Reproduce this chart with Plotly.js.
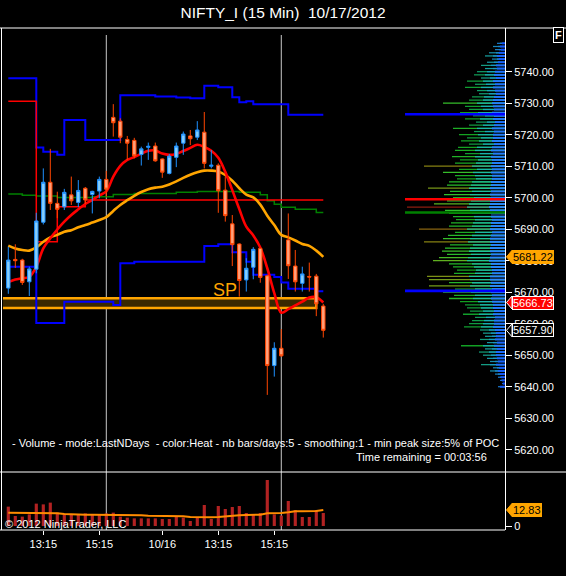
<!DOCTYPE html>
<html><head><meta charset="utf-8">
<script src="https://cdn.plot.ly/plotly-3.0.1.min.js"></script>
<style>html,body{margin:0;padding:0;background:#000;}#chart{width:566px;height:576px;}</style>
</head><body><div id="chart"></div>
<script>
// ---- bar times (15 min bars, close time) ----
const times = [
"10/15 12:00","10/15 12:15","10/15 12:30","10/15 12:45","10/15 13:00","10/15 13:15","10/15 13:30","10/15 13:45","10/15 14:00","10/15 14:15","10/15 14:30","10/15 14:45","10/15 15:00","10/15 15:15","10/15 15:30",
"10/16 09:30","10/16 09:45","10/16 10:00","10/16 10:15","10/16 10:30","10/16 10:45","10/16 11:00","10/16 11:15","10/16 11:30","10/16 11:45","10/16 12:00","10/16 12:15","10/16 12:30","10/16 12:45","10/16 13:00","10/16 13:15","10/16 13:30","10/16 13:45","10/16 14:00","10/16 14:15","10/16 14:30","10/16 14:45","10/16 15:00","10/16 15:15","10/16 15:30",
"10/17 09:30","10/17 09:45","10/17 10:00","10/17 10:15","10/17 10:30","10/17 10:45"];
const tickCats = ["10/15 13:15","10/15 15:15","10/16 11:15","10/16 13:15","10/16 15:15"];
const tickText = ["13:15","15:15","10/16","13:15","15:15"];
const sessionEnds = ["10/15 15:30","10/16 15:30"];

const open  = [5671.3,5680.4,5680.2,5673.3,5677.3,5692.2,5704.9,5698.2,5697.1,5700.9,5698.5,5703.0,5701.0,5702.1,5705.8,
 5725.5,5724.3,5718.5,5718.2,5713.7,5716.0,5716.4,5712.3,5707.7,5712.8,5717.3,5719.6,5719.2,5720.8,5710.0,5710.3,5702.4,5691.7,5685.3,5673.9,5677.9,5683.9,5675.2,5646.7,5652.2,
 5686.6,5678.3,5672.8,5675.0,5675.1,5665.6];
const high  = [5684.4,5685.2,5680.6,5678.1,5695.2,5709.3,5715.5,5701.9,5702.8,5706.7,5705.6,5703.4,5702.2,5706.7,5708.5,
 5729.7,5725.2,5719.6,5719.0,5716.2,5717.5,5717.5,5712.5,5713.9,5717.5,5721.0,5721.5,5724.3,5727.2,5715.1,5710.9,5706.7,5694.5,5685.5,5680.8,5684.3,5684.0,5675.5,5654.1,5658.3,
 5695.0,5683.4,5678.1,5679.4,5675.8,5666.3];
const low   = [5669.5,5677.7,5672.3,5668.8,5676.0,5691.5,5696.1,5693.5,5696.1,5697.7,5697.0,5698.0,5695.0,5699.8,5700.3,
 5719.4,5717.3,5712.0,5712.5,5710.2,5712.0,5711.4,5706.3,5707.4,5709.7,5713.6,5716.7,5718.3,5709.3,5709.3,5695.2,5692.4,5678.3,5668.6,5670.2,5674.1,5673.0,5637.4,5643.2,5649.5,
 5674.2,5670.2,5670.2,5670.2,5662.4,5655.6];
const close = [5680.2,5680.0,5673.1,5677.4,5692.6,5704.9,5698.2,5696.3,5701.7,5699.0,5702.3,5699.3,5702.0,5705.8,5702.7,
 5723.8,5719.2,5717.3,5713.3,5715.5,5716.3,5711.7,5708.1,5713.2,5716.4,5720.2,5718.7,5721.5,5710.9,5710.3,5702.2,5694.3,5685.1,5673.7,5677.6,5683.6,5674.7,5646.7,5652.2,5649.8,
 5678.4,5673.3,5675.8,5674.8,5666.3,5657.9];

const fastEma = [5673.2,5674.0,5674.4,5674.9,5678.1,5683.9,5687.1,5689.9,5692.4,5694.5,5696.3,5698.0,5699.3,5700.7,5702.0,
 5706.7,5710.1,5712.0,5712.9,5714.0,5714.9,5715.0,5714.0,5713.6,5713.9,5714.8,5715.8,5716.8,5716.1,5714.9,5712.7,5708.2,5702.4,5696.4,5690.8,5688.0,5684.2,5677.6,5669.7,5663.5,
 5664.6,5665.8,5667.0,5668.3,5668.4,5666.73];
const slowMa = [5684.8,5683.9,5683.4,5683.2,5684.2,5686.0,5687.4,5688.2,5689.2,5689.7,5690.6,5691.3,5692.1,5692.9,5693.8,
 5695.8,5697.7,5699.2,5700.6,5701.8,5702.7,5703.2,5703.5,5704.2,5705.2,5706.3,5707.3,5708.1,5708.6,5708.6,5708.3,5707.2,5705.4,5703.0,5701.0,5700.1,5697.8,5694.3,5691.3,5688.2,
 5687.4,5686.4,5685.3,5684.7,5683.2,5681.22];
const upperBand = [5737.9,5737.9,5737.9,5737.9,5715.9,5714.6,5714.6,5713.6,5724.7,5724.7,5724.7,5718.3,5718.3,5718.3,5718.3,
 5718.3,5732.5,5732.5,5732.5,5732.5,5732.5,5732.1,5732.1,5732.1,5731.8,5731.8,5731.6,5731.6,5735.5,5735.5,5735.1,5735.1,5731.9,5730.3,5730.6,5729.7,5729.7,5729.7,5729.7,5729.7,
 5726.3,5726.3,5726.3,5726.3,5726.3,5726.3];
const lowerBand = [5678.1,5678.1,5678.1,5678.1,5660.2,5660.2,5660.2,5660.2,5667.0,5667.0,5667.0,5667.0,5667.0,5667.0,5667.0,
 5665.9,5679.2,5679.2,5679.7,5679.7,5679.7,5679.7,5679.7,5679.7,5679.7,5679.7,5679.7,5679.7,5684.7,5684.7,5685.2,5685.2,5682.7,5682.7,5679.7,5675.5,5675.5,5675.5,5674.8,5673.1,
 5671.1,5671.1,5671.1,5671.1,5670.3,5670.3];
const greenLine = [5701.2,5701.2,5700.8,5700.8,5700.5,5700.5,5700.5,5700.1,5700.1,5700.1,5700.1,5700.1,5700.3,5700.3,5700.3,
 5701.0,5701.0,5701.0,5701.3,5701.3,5701.3,5701.3,5701.3,5701.3,5701.7,5701.7,5701.7,5702.0,5702.0,5702.0,5702.0,5702.0,5702.0,5701.7,5701.7,5701.7,5700.9,5699.0,5697.9,5697.0,
 5697.0,5696.3,5696.3,5696.3,5695.3,5695.3];
const redStep = [5730.6,5730.6,5730.6,5730.6,5686.0,5686.0,5686.0,5697.1,5697.1,5697.1,5697.1,5699.3,5699.3,5699.3,5699.3,
 5699.3,5699.3,5699.3,5699.3,5699.3,5699.3,5699.3,5699.3,5699.3,5699.3,5699.3,5699.3,5699.3,5699.3,5699.3,5699.3,5699.3,5699.3,5699.3,5699.3,5699.3,5699.3,5699.3,5699.3,5699.3,
 5699.3,5699.3,5699.3,5699.3,5699.3,5699.3];

const volume = [15.5,8.0,7.5,9.3,17.9,17.3,18.7,10.7,9.3,8.8,9.3,10.1,8.8,9.3,10.1,
 10.7,7.5,6.7,6.1,6.1,6.1,6.1,5.6,5.6,7.5,6.7,4.0,6.7,16.8,5.6,16.0,13.6,15.2,16.0,10.4,9.3,10.4,36.8,9.3,8.3,
 20.0,12.8,7.2,7.2,12.8,10.4];
const volumeMa = [10.6,10.6,10.5,10.4,10.4,10.4,10.4,10.2,9.6,9.2,9.0,9.0,9.0,9.0,9.0,
 9.0,8.8,8.8,8.6,8.6,8.2,8.2,8.4,8.4,8.0,7.8,7.2,7.0,7.0,7.0,7.2,7.8,8.0,8.6,8.8,8.8,9.0,10.2,10.2,10.4,
 11.0,11.8,11.8,11.8,12.0,12.83];

const spZone = [5665.0, 5668.1];
const spZoneEnd = "10/17 10:30";
const spLabelAt = "10/16 13:30";
const yTicks = [5620,5630,5640,5650,5660,5670,5680,5690,5700,5710,5720,5730,5740];

// ---- volume profile (price level -> length) ----
const profLevels = [5749,5748,5747,5746,5745,5744,5743,5742,5741,5740,
 5739,5738,5737,5736,5735,5734,5733,5732,5731,5730,
 5729,5728,5727,5726,5725,5724,5723,5722,5721,5720,
 5719,5718,5717,5716,5715,5714,5713,5712,5711,5710,
 5709,5708,5707,5706,5705,5704,5703,5702,5701,5700,
 5699,5698,5697,5696,5695,5694,5693,5692,5691,5690,
 5689,5688,5687,5686,5685,5684,5683,5682,5681,5680,
 5679,5678,5677,5676,5675,5674,5673,5672,5671,5670,
 5669,5668,5667,5666,5665,5664,5663,5662,5661,5660,
 5659,5658,5657,5656,5655,5654,5653,5652,5651,5650,
 5649,5648,5647,5646,5645,5644,5643,5642,5641,5640];
const profOuter = [8,12,10,16,20,13,18,24,20,28,
 31,24,38,30,40,28,26,33,36,62,
 40,36,45,32,40,29,36,52,31,46,
 38,44,36,47,50,40,53,45,50,81,
 46,62,50,48,56,58,77,55,61,52,
 58,71,98,60,56,52,49,54,56,86,
 50,57,62,81,55,60,63,58,66,72,
 56,52,48,51,78,76,56,76,50,62,
 51,56,45,40,38,35,42,30,33,36,
 41,25,22,20,25,18,44,20,26,22,
 18,15,24,12,15,10,7,5,3,7];
const profMid = [5,7,6,9,12,8,11,14,12,18,
 20,15,22,19,24,18,16,21,22,28,
 24,22,27,20,25,18,22,28,20,27,
 24,26,22,28,30,25,30,27,29,33,
 28,32,30,29,33,34,36,33,35,31,
 34,36,38,35,33,31,30,32,33,38,
 30,33,35,37,32,35,36,34,37,38,
 33,31,29,30,36,35,33,35,30,34,
 30,32,27,25,24,22,26,19,21,22,
 24,16,14,13,16,12,22,13,16,14,
 12,10,15,8,10,7,5,4,2,5];
const profInner = [3,5,4,6,8,6,7,9,8,10,
 11,9,12,10,12,10,9,11,12,13,
 12,11,13,11,12,10,11,13,11,12,
 12,13,11,13,14,12,14,13,13,14,
 13,14,13,13,14,14,15,14,15,14,
 15,15,16,15,14,14,13,14,14,15,
 13,14,15,15,14,15,15,14,15,16,
 14,14,13,13,15,15,14,15,13,14,
 13,14,13,12,12,11,12,10,11,11,
 12,10,9,9,10,8,11,8,9,9,
 8,7,9,6,7,5,4,3,2,5];
const peakLevels = [5726.5, 5699.5, 5695.3, 5670.4];
const peakLen = [100, 100, 100, 100];

// ---- build ----
const x = times.map((t, i) => i);
const idx = c => times.indexOf(c);
const xr = [-0.757, 70.96];
const last = a => a[a.length - 1];

function line(y, color, width, shape, yaxis) {
  return {type:'scatter', mode:'lines', x, y, xaxis:'x', yaxis:yaxis||'y',
          line:{color, width, shape:shape||'linear'}, hoverinfo:'skip'};
}
const traces = [
  line(upperBand, '#0000ff', 2, 'hv'),
  line(lowerBand, '#0000ff', 2, 'hv'),
  line(greenLine, '#008000', 1.5, 'hv'),
  line(redStep, '#ff0000', 1.5, 'hv'),
  line(slowMa, '#ffa500', 2.6, 'spline'),
  line(fastEma, '#ff0000', 2.6, 'spline'),
  {type:'bar', x, y:volume, xaxis:'x', yaxis:'y2', width:0.45, marker:{color:'#b22222', line:{width:0}}, hoverinfo:'skip'},
  line(volumeMa, '#ff8c00', 2, 'linear', 'y2'),
  {type:'candlestick', x, open, high, low, close, xaxis:'x2', yaxis:'y',
   increasing:{line:{color:'#1e90ff', width:1}, fillcolor:'#87cefa'},
   decreasing:{line:{color:'#ff4500', width:1}, fillcolor:'#ffa07a'},
   whiskerwidth:0, hoverinfo:'skip'},
  {type:'bar', orientation:'h', x:profOuter, y:profLevels, xaxis:'x3', yaxis:'y', width:0.4,
   marker:{color:profOuter, cmin:0, cmax:100, line:{width:0},
     colorscale:[[0,'#1a5fe0'],[0.2,'#169c9c'],[0.32,'#0f9a50'],[0.45,'#12a020'],[0.6,'#2cc02c'],[0.72,'#60b020'],[0.8,'#858512'],[0.9,'#8b5010'],[1,'#8b1010']]},
   hoverinfo:'skip'},
  {type:'bar', orientation:'h', x:profMid, y:profLevels, xaxis:'x3', yaxis:'y', width:0.42,
   marker:{color:profMid, cmin:0, cmax:40, line:{width:0},
     colorscale:[[0,'#1a70e0'],[0.5,'#16a8b8'],[1,'#20c890']]}, hoverinfo:'skip'},
  {type:'bar', orientation:'h', x:profInner, y:profLevels, xaxis:'x3', yaxis:'y', width:0.6,
   marker:{color:profInner, cmin:0, cmax:16, line:{width:0},
     colorscale:[[0,'#0a40ff'],[1,'#2a8cff']]}, hoverinfo:'skip'},
  {type:'bar', orientation:'h', x:peakLen, y:peakLevels, xaxis:'x3', yaxis:'y', width:0.85,
   marker:{color:['#0000ff','#ff0000','#008000','#0000ff'], line:{width:0}}, hoverinfo:'skip'}
];

const PW = 502, PH = 502;           // plot area in px
const px = v => (v - 3) / PW;       // page x -> paper
const py = v => (530 - v) / PH;     // page y -> paper
const volTop = py(472);
const white = '#ffffff';

const shapes = [
  {type:'rect', xref:'x', yref:'y', x0:-1, x1:idx(spZoneEnd), y0:spZone[0], y1:spZone[1],
   fillcolor:'#3a2800', line:{color:'#ffa500', width:2.5}, layer:'below'},
  ...sessionEnds.map(s => ({type:'line', xref:'x', yref:'paper', x0:idx(s), x1:idx(s), y0:0, y1:py(35),
   line:{color:'#c8c8c8', width:1}, layer:'below'})),
  {type:'line', xref:'paper', yref:'paper', x0:px(0), x1:px(566), y0:1, y1:1, line:{color:white, width:1}},
  {type:'line', xref:'paper', yref:'paper', x0:px(0), x1:px(566), y0:volTop, y1:volTop, line:{color:white, width:1}},
  {type:'line', xref:'paper', yref:'paper', x0:px(0), x1:1, y0:0, y1:0, line:{color:white, width:1}},
  {type:'line', xref:'paper', yref:'paper', x0:px(1.5), x1:px(1.5), y0:0, y1:1, line:{color:white, width:1}}
];
function tab(yref, yval, fill, border) {
  return {type:'path', xref:'paper', yref, xsizemode:'pixel', ysizemode:'pixel', xanchor:1, yanchor:yval,
          path:'M 1.5 0 L 7 6.5 L 7 -6.5 Z', fillcolor:fill, line:{color:border, width:1}};
}
shapes.push(tab('y', last(slowMa), '#ffa500', '#ffa500'));
shapes.push(tab('y', last(fastEma), '#ff0000', white));
shapes.push(tab('y', last(close), '#000000', white));
shapes.push(tab('y2', last(volumeMa), '#ffa500', '#ffa500'));

function priceLabel(yref, yval, bg, fg, border) {
  return {xref:'paper', yref, x:1, y:yval, xanchor:'left', yanchor:'middle', xshift:7,
          text:yval.toFixed(2), showarrow:false, bgcolor:bg, bordercolor:border, borderwidth:1, borderpad:0,
          font:{size:11, color:fg}};
}
const annotations = [
  {xref:'x', yref:'y', x:idx(spLabelAt), y:spZone[1], yanchor:'bottom', yshift:-4, text:'SP', showarrow:false,
   font:{size:18, color:'#ffa500'}},
  {xref:'paper', yref:'paper', x:px(501), y:py(443), xanchor:'right', yanchor:'middle', showarrow:false,
   text:'- Volume - mode:LastNDays\u00a0 - color:Heat - nb bars/days:5 - smoothing:1 - min peak size:5% of POC',
   font:{size:11, color:white}},
  {xref:'paper', yref:'paper', x:px(489), y:py(457), xanchor:'right', yanchor:'middle', showarrow:false,
   text:'Time remaining = 00:03:56', font:{size:11, color:white}},
  {xref:'paper', yref:'paper', x:px(3), y:py(523.5), xanchor:'left', yanchor:'middle', showarrow:false,
   text:'\u00a9 2012 NinjaTrader, LLC', font:{size:11, color:white}},
  {xref:'paper', yref:'paper', x:px(558), y:py(35), xanchor:'center', yanchor:'middle', showarrow:false,
   text:'<b>F</b>', bgcolor:'#000', bordercolor:white, borderwidth:1, borderpad:1, font:{size:11, color:white}},
  priceLabel('y', last(slowMa), '#ffa500', '#000000', '#ffa500'),
  priceLabel('y', last(fastEma), '#ff0000', '#ffffff', white),
  priceLabel('y', last(close), '#000000', '#ffffff', white),
  priceLabel('y2', last(volumeMa), '#ffa500', '#000000', '#ffa500')
];

const layout = {
  width:566, height:576,
  paper_bgcolor:'#000', plot_bgcolor:'#000',
  margin:{l:3, r:61, t:28, b:46, pad:0},
  showlegend:false, barmode:'overlay', boxgap:0.3,
  font:{family:'Liberation Sans, Arial, sans-serif', color:white, size:11},
  title:{text:'NIFTY_I (15 Min)\u00a0 10/17/2012', font:{size:15.5, color:white},
         x:0.5, xref:'container', xanchor:'center', y:1 - 13/576, yref:'container', yanchor:'middle'},
  xaxis:{domain:[0,1], anchor:'y2', range:xr, tickvals:tickCats.map(idx), ticktext:tickText,
         ticks:'outside', ticklen:4, tickcolor:white, showgrid:false, zeroline:false, showline:false,
         tickfont:{size:11, color:white}, rangeslider:{visible:false}},
  xaxis2:{overlaying:'x', anchor:'y', range:xr, visible:false, rangeslider:{visible:false}},
  xaxis3:{overlaying:'x', anchor:'y', range:[PW, 0], visible:false},
  yaxis:{domain:[volTop,1], anchor:'x', side:'right', range:[5612.92, 5753.87], tickvals:yTicks, tickformat:'.2f',
         ticks:'outside', ticklen:6, tickcolor:white, showline:true, linecolor:white, linewidth:1,
         showgrid:false, zeroline:false, tickfont:{size:11, color:white}},
  yaxis2:{domain:[0,volTop], anchor:'x', side:'right', range:[-3.2, 43.2], tickvals:[0],
          ticks:'outside', ticklen:6, tickcolor:white, showline:true, linecolor:white, linewidth:1,
          showgrid:false, zeroline:false, tickfont:{size:11, color:white}},
  shapes, annotations
};
Plotly.newPlot('chart', traces, layout, {staticPlot:true, displayModeBar:false});
</script></body></html>
